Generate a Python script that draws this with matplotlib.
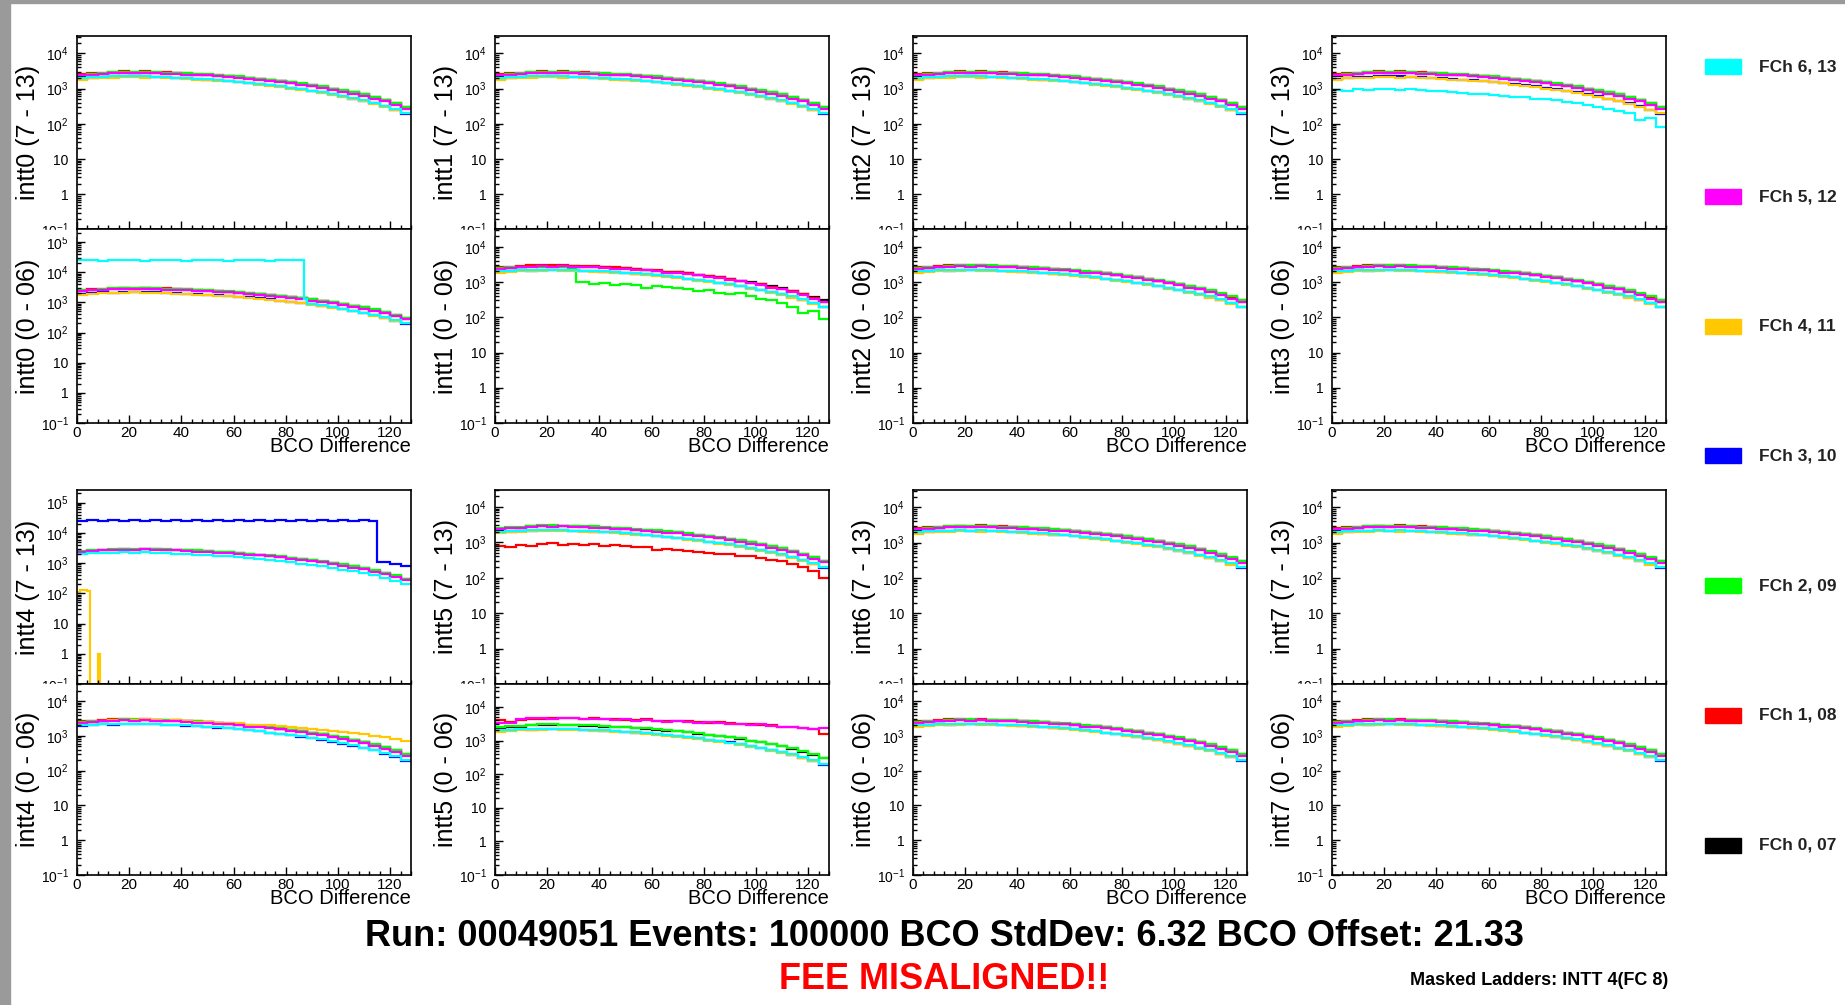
import numpy as np
import matplotlib
matplotlib.use("Agg")
import matplotlib.pyplot as plt
from matplotlib.patches import Rectangle
from matplotlib.ticker import FixedLocator, MultipleLocator, LogLocator, NullFormatter, FuncFormatter

plt.rcParams['font.family'] = ['Liberation Sans', 'DejaVu Sans']
plt.rcParams['mathtext.fontset'] = 'custom'
plt.rcParams['mathtext.rm'] = 'Liberation Sans'
plt.rcParams['mathtext.it'] = 'Liberation Sans:italic'
plt.rcParams['mathtext.bf'] = 'Liberation Sans:bold'

# ---- data (bins of 4 BCO) ----
bin_edges = np.arange(0, 129, 4)

fch_labels = ["FCh 0, 07", "FCh 1, 08", "FCh 2, 09", "FCh 3, 10", "FCh 4, 11", "FCh 5, 12", "FCh 6, 13"]
fch_colors = ["#000000", "#ff0000", "#00ff00", "#0000ff", "#ffc800", "#ff00ff", "#00ffff"]

black_vals = [2300, 2500, 2600, 2800, 2900, 2800, 2900, 2850, 2700, 2750, 2600, 2500, 2450, 2300, 2250, 2100,
              1950, 1900, 1750, 1600, 1500, 1350, 1250, 1100, 1000, 880, 780, 680, 560, 470, 380, 300]
red_vals = [2600, 2700, 2800, 3000, 3050, 2950, 3100, 2900, 2900, 2800, 2700, 2650, 2500, 2400, 2250, 2150,
            1980, 1900, 1750, 1600, 1450, 1380, 1200, 1100, 950, 860, 740, 650, 540, 460, 360, 280]
green_vals = [2500, 2650, 2750, 2900, 3000, 3000, 2950, 2950, 2850, 2800, 2700, 2600, 2550, 2400, 2300, 2200,
              2050, 1900, 1800, 1650, 1500, 1400, 1250, 1150, 1000, 900, 780, 680, 580, 480, 390, 300]
blue_vals = [1900, 2000, 2150, 2100, 2250, 2200, 2200, 2150, 2100, 2000, 1950, 1900, 1800, 1700, 1650, 1550,
             1450, 1350, 1250, 1150, 1050, 950, 880, 780, 680, 600, 520, 450, 380, 310, 250, 190]
yellow_vals = [1800, 1950, 2000, 2050, 2100, 2150, 2050, 2100, 2000, 1950, 1900, 1800, 1750, 1650, 1600, 1500,
               1400, 1300, 1200, 1100, 1000, 920, 830, 750, 650, 580, 500, 430, 360, 300, 240, 200]
magenta_vals = [2400, 2500, 2600, 2750, 2800, 2700, 2850, 2700, 2650, 2600, 2500, 2400, 2350, 2200, 2150, 2000,
                1850, 1800, 1650, 1550, 1400, 1300, 1150, 1050, 920, 820, 700, 620, 520, 430, 340, 270]
cyan_vals = [2000, 2100, 2150, 2200, 2250, 2200, 2250, 2150, 2100, 2050, 2000, 1900, 1850, 1750, 1650, 1550,
             1450, 1350, 1250, 1150, 1050, 960, 870, 790, 690, 610, 530, 460, 390, 320, 260, 200]
base_vals = [black_vals, red_vals, green_vals, blue_vals, yellow_vals, magenta_vals, cyan_vals]

# intt0 (0 - 06), FCh 6: stuck high up to BCO 87
int0_lo_cyan_edges = list(range(0, 88, 4)) + [87] + list(range(88, 129, 4))
int0_lo_cyan_vals = [24500, 25500, 24000, 26000, 24500, 25500, 24000, 26000, 24500, 25500, 24000,
                     26000, 24500, 25500, 24000, 26000, 24500, 25500, 24000, 26000, 24500, 25500,
                     1250, 870, 790, 690, 610, 530, 460, 390, 320, 260, 200]
# intt1 (0 - 06), FCh 2: drop after BCO 31
int1_lo_green_edges = list(range(0, 32, 4)) + [31] + list(range(32, 129, 4))
int1_lo_green_vals = [2500, 2600, 2700, 2650, 2600, 2750, 2600, 2550, 1000,
                      1000, 900, 920, 850, 870, 820, 700, 760, 720, 680, 640, 560,
                      590, 500, 450, 480, 400, 330, 300, 250, 200, 130, 150, 90]
# intt3 (7 - 13), FCh 6: low
int3_hi_cyan_vals = [900, 850, 950, 900, 1000, 950, 900, 980, 900, 850, 880, 800, 760, 720, 700, 650,
                     620, 580, 560, 520, 500, 460, 420, 380, 350, 300, 270, 230, 200, 130, 150, 80]
# intt4 (7 - 13), FCh 3: stuck high up to BCO 115
int4_hi_blue_edges = list(range(0, 116, 4)) + [115, 116, 120, 124, 128]
int4_hi_blue_vals = [24500, 25500, 24000, 26000, 24500, 25500, 24000, 26000, 24500, 25500, 24000,
                     26000, 24500, 25500, 24000, 26000, 24500, 25500, 24000, 26000, 24500, 25500,
                     24000, 26000, 24500, 25500, 24000, 26000, 25000,
                     1100, 1050, 950, 800]
# intt4 (7 - 13), FCh 4: almost empty
int4_hi_yellow_edges = [0, 1, 2, 3, 4, 5, 8, 9, 128]
int4_hi_yellow_vals = [110, 130, 125, 125, 120, 0, 1, 0]
# intt4 (0 - 06), FCh 4: flatter tail
int4_lo_yellow_vals = [2400, 2500, 2600, 2800, 2900, 2900, 3000, 2800, 2700, 2800, 2600, 2500, 2500, 2400, 2300, 2300,
                       2100, 2000, 2000, 1900, 1800, 1700, 1600, 1500, 1400, 1300, 1200, 1100, 1000, 900, 800, 700]
# intt5 (7 - 13), FCh 1: low
int5_hi_red_vals = [800, 750, 850, 800, 900, 950, 850, 900, 850, 880, 800, 820, 780, 720, 750, 600,
                    650, 600, 560, 520, 500, 480, 460, 420, 400, 360, 320, 290, 240, 200, 160, 100]
# intt5 (0 - 06), FCh 1 and FCh 5: high
int5_lo_red_vals = [4000, 3500, 4200, 4500, 4500, 4700, 4600, 4800, 4500, 4700, 4400, 4300, 4200, 4100, 4300, 3900,
                    3800, 3700, 3800, 3500, 3400, 3600, 3300, 3100, 3200, 2900, 2800, 2600, 2500, 2300, 2200, 1600]
int5_lo_magenta_vals = [3300, 3400, 4300, 4700, 4600, 4500, 4800, 4600, 4400, 4500, 4300, 4200, 4300, 3900, 4000, 3800,
                        3600, 3800, 3500, 3400, 3500, 3300, 3100, 3200, 2900, 3000, 2700, 2600, 2600, 2400, 2200, 2300]

servers = ["intt0", "intt1", "intt2", "intt3", "intt4", "intt5", "intt6", "intt7"]
halves = ["(7 - 13)", "(0 - 06)"]

# (server, half) -> {fch: (edges, values) or None for masked}
special = {
    (0, 1): {6: (int0_lo_cyan_edges, int0_lo_cyan_vals)},
    (1, 1): {2: (int1_lo_green_edges, int1_lo_green_vals)},
    (3, 0): {6: (bin_edges, int3_hi_cyan_vals)},
    (4, 0): {1: None, 3: (int4_hi_blue_edges, int4_hi_blue_vals), 4: (int4_hi_yellow_edges, int4_hi_yellow_vals)},
    (4, 1): {4: (bin_edges, int4_lo_yellow_vals)},
    (5, 0): {1: (bin_edges, int5_hi_red_vals)},
    (5, 1): {1: (bin_edges, int5_lo_red_vals), 5: (bin_edges, int5_lo_magenta_vals)},
}

run_text = "Run: 00049051 Events: 100000 BCO StdDev: 6.32 BCO Offset: 21.33"
status_text = "FEE MISALIGNED!!"
masked_text = "Masked Ladders: INTT 4(FC 8)"

# ---- layout (pixels) ----
W, H = 1845, 1005
fig = plt.figure(figsize=(W / 100, H / 100), dpi=100)
col_left = [77, 495, 913, 1332]
ax_w = 334
pair_y = [(36, 229.5, 423), (490, 684, 875)]


def ytick_fmt(v, pos):
    e = int(round(np.log10(v)))
    if e == 0:
        return "1"
    if e == 1:
        return "10"
    return r"$10^{%d}$" % e


for s, name in enumerate(servers):
    row, col = divmod(s, 4)
    top, mid, bot = pair_y[row]
    for h in range(2):
        y0, y1 = (top, mid) if h == 0 else (mid, bot)
        ax = fig.add_axes([col_left[col] / W, 1 - y1 / H, ax_w / W, (y1 - y0) / H])
        over = special.get((s, h), {})
        ymax = 0
        for f in range(7):
            if f in over:
                if over[f] is None:
                    continue
                edges, vals = over[f]
            else:
                edges, vals = bin_edges, base_vals[f]
            vals = np.asarray(vals, dtype=float)
            ymax = max(ymax, vals.max())
            ax.stairs(np.maximum(vals, 1e-3), edges, color=fch_colors[f], lw=1.6, baseline=None)
        ax.set_yscale("log")
        ax.set_xlim(0, 128)
        ax.set_ylim(0.1, ymax * 10)
        ax.yaxis.set_major_locator(FixedLocator([0.1, 1, 10, 100, 1e3, 1e4, 1e5]))
        ax.yaxis.set_minor_locator(LogLocator(base=10, subs=np.arange(2, 10), numticks=30))
        ax.yaxis.set_major_formatter(FuncFormatter(ytick_fmt))
        ax.yaxis.set_minor_formatter(NullFormatter())
        ax.xaxis.set_major_locator(MultipleLocator(20))
        ax.xaxis.set_minor_locator(MultipleLocator(4))
        ax.tick_params(which="both", direction="in", top=False, right=False, width=1)
        ax.tick_params(which="major", length=6)
        ax.tick_params(which="minor", length=3)
        ax.tick_params(axis="y", labelsize=10, pad=6)
        ax.tick_params(axis="x", labelsize=11, pad=2)
        for sp in ax.spines.values():
            sp.set_linewidth(1.2)
        ax.set_ylabel(name + " " + halves[h], fontsize=18)
        ax.yaxis.set_label_coords(-37 / ax_w, 0.5)
        if h == 0:
            ax.tick_params(axis="x", labelbottom=False)
            # hide lower half of the 10^-1 label, as the pad edge does in the original
            fig.add_artist(Rectangle(((col_left[col] - 34) / W, 1 - (mid + 6) / H), 32 / W, 6 / H,
                                     transform=fig.transFigure, color="white", zorder=1))
        else:
            ax.text(1.0, -29 / (y1 - y0), "BCO Difference", transform=ax.transAxes,
                    ha="right", va="baseline", fontsize=14.5)

# legend column
leg_y = np.linspace(67, 845, 7)
for i, f in enumerate(range(6, -1, -1)):
    yc = leg_y[i]
    fig.add_artist(Rectangle((1705 / W, 1 - (yc + 7.5) / H), 36 / W, 15 / H,
                             transform=fig.transFigure, color=fch_colors[f]))
    fig.text(1759 / W, 1 - yc / H, fch_labels[f], ha="left", va="center",
             fontsize=12.5, fontweight="bold", color="#222222")

fig.text(944 / W, 1 - 936 / H, run_text, ha="center", va="center", fontsize=26, fontweight="bold")
fig.text(944 / W, 1 - 979 / H, status_text, ha="center", va="center", fontsize=26,
         fontweight="bold", color="#ff0000")
fig.text(1410 / W, 1 - 980 / H, masked_text, ha="left", va="center", fontsize=13, fontweight="bold")

# grey frame on the left and top
fig.add_artist(Rectangle((0, 0), 10 / W, 1, transform=fig.transFigure, color="#9a9a9a", zorder=2))
fig.add_artist(Rectangle((0, 1 - 3 / H), 1, 3 / H, transform=fig.transFigure, color="#9a9a9a", zorder=2))

fig.savefig("out.png", dpi=100)
